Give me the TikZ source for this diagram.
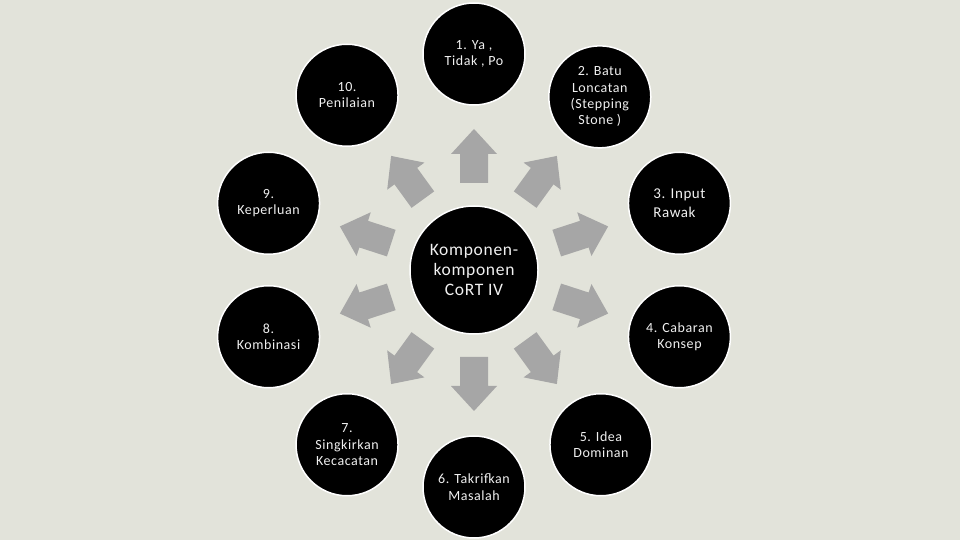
\documentclass[tikz,border=0pt]{standalone}
\usepackage{fontspec}
\setmainfont{Carlito}[LetterSpace=4]
\definecolor{bgc}{RGB}{226,227,218}
\definecolor{arrowc}{RGB}{166,166,166}
\definecolor{txtc}{RGB}{240,240,240}
\tikzset{
  outer/.style={circle, fill=black, draw=white, line width=1.5pt, minimum size=102pt, inner sep=0pt,
    text=txtc, align=center, font=\fontsize{14}{16.3}\selectfont},
  hub/.style={circle, fill=black, draw=white, line width=1.5pt, minimum size=128pt, inner sep=0pt,
    text=txtc, align=center, font=\fontsize{17.5}{20}\selectfont},
  blockarrow/.style={fill=arrowc, draw=none}
}
\begin{document}
\begin{tikzpicture}[x=1pt,y=1pt]
\useasboundingbox (0,0) rectangle (960,540);
\fill[bgc] (0,0) rectangle (960,540);
% arrows
\foreach \a in {90,54,18,-18,-54,-90,-126,-162,162,126}{
  \begin{scope}[shift={(474,270)}, rotate=\a]
    \fill[blockarrow] (87,-14) -- (116,-14) -- (116,-23) -- (141,0) -- (116,23) -- (116,14) -- (87,14) -- cycle;
  \end{scope}
}
\node[hub] (c) at (474,270) {Komponen-\\komponen\\CoRT IV};
\path (474,270) ++(90:216) node[outer] (n1) {1. Ya ,\\Tidak , Po};
\path (474,270) ++(54:214) node[outer] (n2) {2. Batu\\Loncatan\\(Stepping\\Stone )};
\path (474,270) ++(18:216) node[outer, font=\fontsize{15}{19}\selectfont, align=left] (n3) {3. Input\\Rawak};
\path (474,270) ++(-18:216) node[outer] (n4) {4. Cabaran\\Konsep};
\path (474,270) ++(-54:216) node[outer] (n5) {5. Idea\\Dominan};
\path (474,270) ++(-90:217) node[outer] (n6) {6. Takrifkan\\Masalah};
\path (474,270) ++(-126:216) node[outer] (n7) {7.\\Singkirkan\\Kecacatan};
\path (474,270) ++(-162:216) node[outer] (n8) {8.\\Kombinasi};
\path (474,270) ++(162:216) node[outer] (n9) {9.\\Keperluan};
\path (474,270) ++(126:216) node[outer] (n10) {10.\\Penilaian};
\end{tikzpicture}
\end{document}
